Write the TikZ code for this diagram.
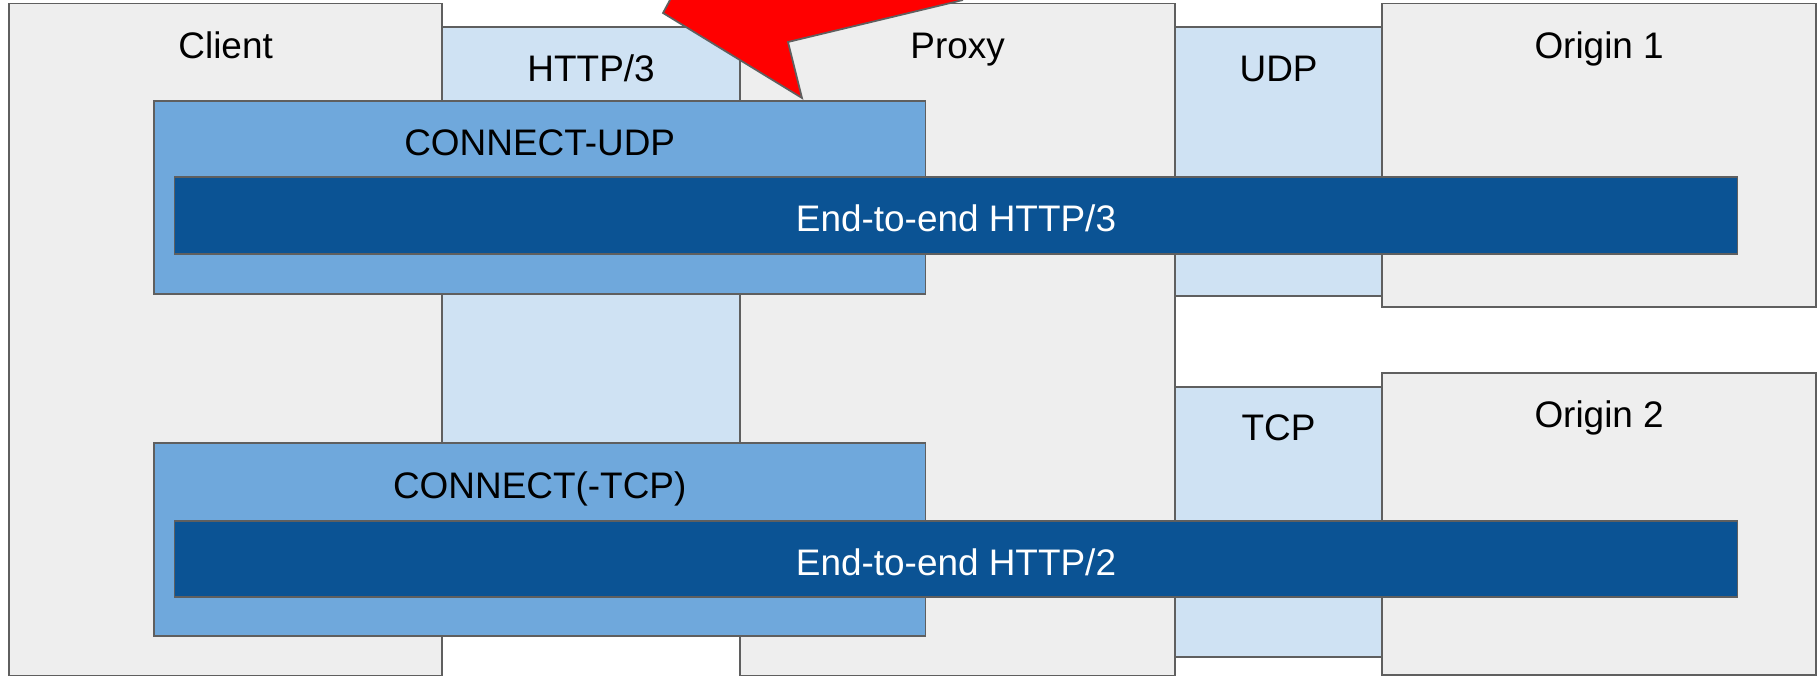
\documentclass[tikz,border=0pt]{standalone}
\usepackage{fontspec}
\setmainfont{Liberation Sans}
\usepackage{tikz}

\definecolor{hostgray}{HTML}{EEEEEE}
\definecolor{linkblue}{HTML}{CFE2F3}
\definecolor{tunnelblue}{HTML}{6FA8DC}
\definecolor{e2eblue}{HTML}{0B5394}
\definecolor{edgegray}{HTML}{5F5F5F}

\begin{document}
\begin{tikzpicture}[x=0.01cm,y=-0.01cm,
    box/.style={rectangle,draw=edgegray,line width=0.5pt,inner sep=0pt,outer sep=0pt,anchor=north west},
    host/.style={box,fill=hostgray},
    link/.style={box,fill=linkblue},
    tunnel/.style={box,fill=tunnelblue},
    e2e/.style={box,fill=e2eblue,text=white,anchor=center,text height=0.33cm,text depth=0pt},
    lbl/.style={font=\fontsize{10.5}{12.6}\selectfont},
    toplbl/.style={lbl,anchor=base}]
   \useasboundingbox (0,0) rectangle (1819,677);
   % hosts and the links between them
   \node[host,minimum width=4.33cm,minimum height=6.715cm] (client) at (9,3.5) {};
   \node[link,minimum width=2.98cm,minimum height=4.8cm] (h3link) at (442,27) {};
   \node[host,minimum width=4.35cm,minimum height=6.715cm] (proxy) at (740,3.5) {};
   \node[link,minimum width=2.07cm,minimum height=2.69cm] (udp) at (1175,27) {};
   \node[host,minimum width=4.34cm,minimum height=3.035cm] (origin1) at (1382,3.5) {};
   \node[link,minimum width=2.07cm,minimum height=2.7cm] (tcp) at (1175,387) {};
   \node[host,minimum width=4.34cm,minimum height=3.02cm] (origin2) at (1382,373) {};
   % tunnels
   \node[tunnel,minimum width=7.71cm,minimum height=1.93cm] (cudp) at (154,101) {};
   \node[tunnel,minimum width=7.71cm,minimum height=1.93cm] (ctcp) at (154,443) {};
   \node[e2e,lbl,minimum width=15.62cm,minimum height=0.77cm] (e2e3) at (956,215.5) {End-to-end HTTP/3};
   \node[e2e,lbl,minimum width=15.62cm,minimum height=0.76cm] (e2e2) at (956,559) {End-to-end HTTP/2};
   % labels
   \node[toplbl] (clientlbl) at ([yshift=-0.545cm]client.north) {Client};
   \node[toplbl] (h3lbl) at ([yshift=-0.54cm]h3link.north) {HTTP/3};
   \node[toplbl] (proxylbl) at ([yshift=-0.545cm]proxy.north) {Proxy};
   \node[toplbl] (udplbl) at ([yshift=-0.54cm]udp.north) {UDP};
   \node[toplbl] (origin1lbl) at ([yshift=-0.545cm]origin1.north) {Origin 1};
   \node[toplbl] (tcplbl) at ([yshift=-0.53cm]tcp.north) {TCP};
   \node[toplbl] (origin2lbl) at ([yshift=-0.54cm]origin2.north) {Origin 2};
   \node[toplbl] (cudplbl) at ([yshift=-0.54cm]cudp.north) {CONNECT-UDP};
   \node[toplbl] (ctcplbl) at ([yshift=-0.55cm]ctcp.north) {CONNECT(-TCP)};
   % red arrow
   \fill[red] (670,0) -- (663,13) -- (802,98) -- (788,42) -- (963,0) -- cycle;
   \draw[edgegray,line width=0.5pt,line join=miter] (670,0) -- (663,13) -- (802,98) -- (788,42) -- (963,0);
\end{tikzpicture}
\end{document}
